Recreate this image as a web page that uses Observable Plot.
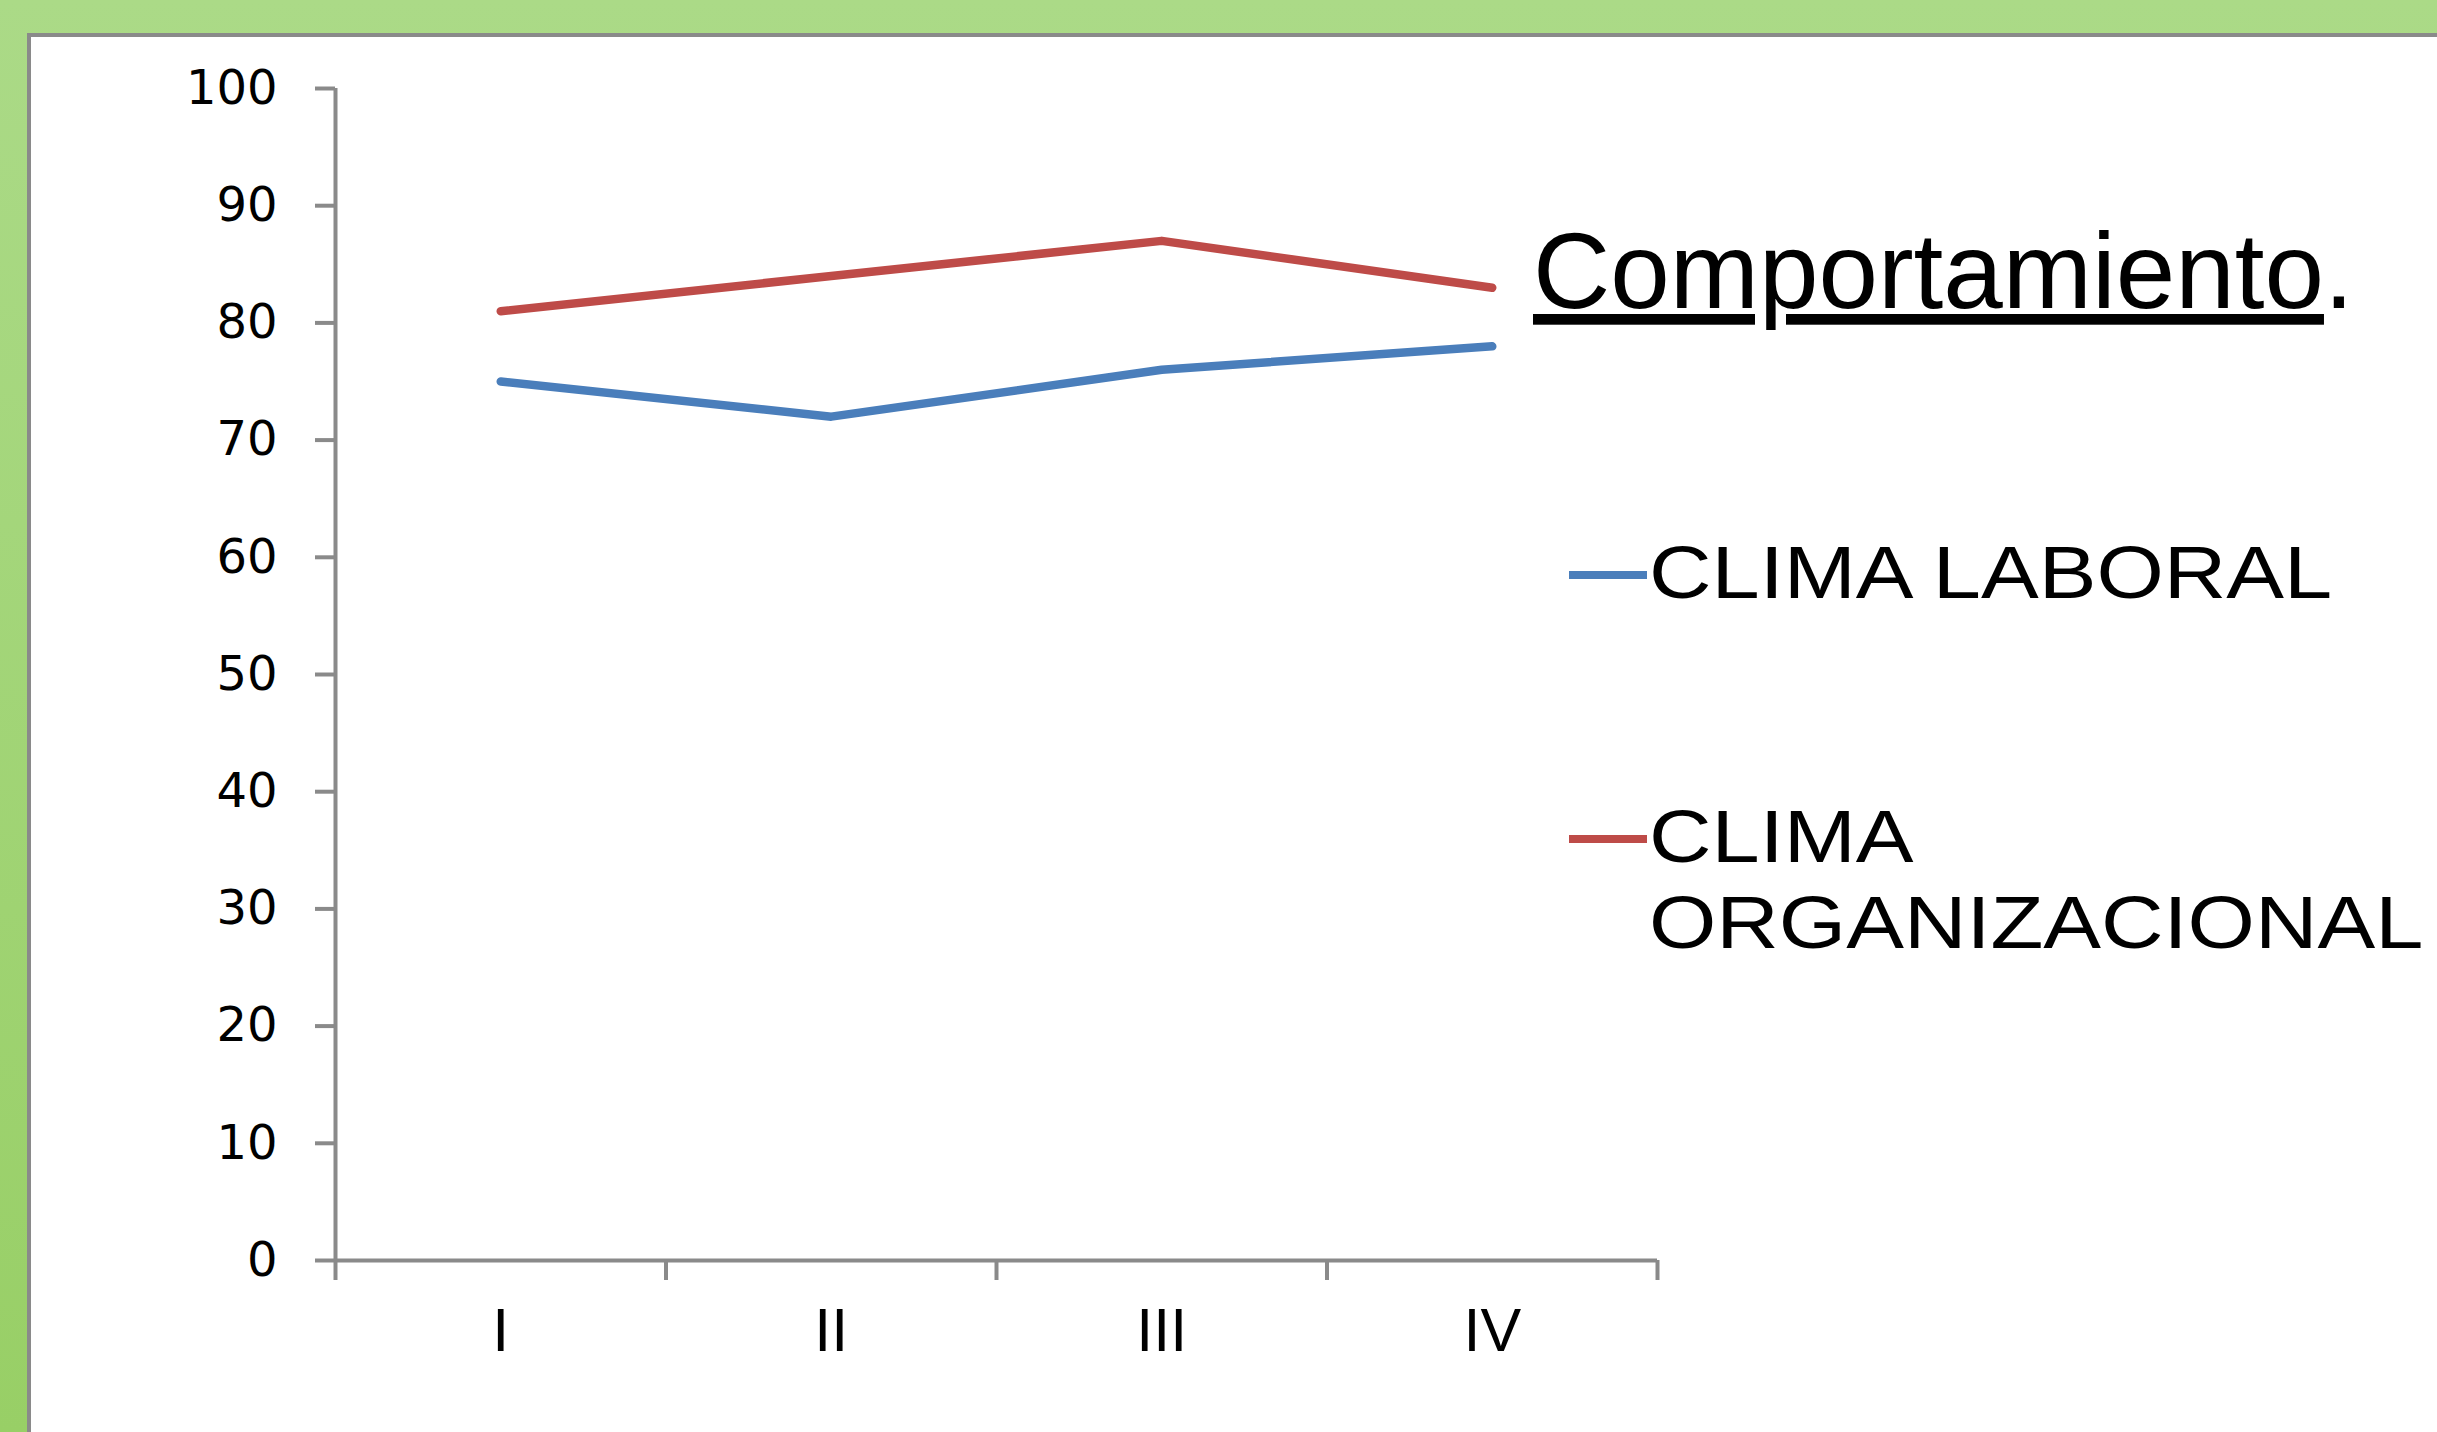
<!DOCTYPE html>
<html><head><meta charset="utf-8">
<script src="https://cdn.jsdelivr.net/npm/d3@7"></script>
<script src="https://cdn.jsdelivr.net/npm/@observablehq/plot@0.6"></script>
<style>
html,body{margin:0;padding:0;}
body{width:2437px;height:1432px;overflow:hidden;position:relative;background:linear-gradient(#abda87,#98cf66);}
#panel{position:absolute;left:27px;top:33px;right:-10px;bottom:-10px;background:#fff;border-left:4px solid #8a8a8a;border-top:4px solid #8a8a8a;}
#chart{position:absolute;left:0;top:0;}
#overlay{position:absolute;left:0;top:0;}
</style></head><body>
<div id="panel"></div>
<div id="chart"></div>
<svg id="overlay" width="2437" height="1432"></svg>
<script>
// ---- data ----
const categories = ["I", "II", "III", "IV"];
const seriesNames = ["CLIMA LABORAL", "CLIMA ORGANIZACIONAL"];
const climaLaboral = [75, 72, 76, 78];
const climaOrganizacional = [81, 84, 87, 83];
const seriesColors = ["#4a7ebb", "#be4b48"];
const yTicks = [0, 10, 20, 30, 40, 50, 60, 70, 80, 90, 100];
const titleText = "Comportamiento";
const legendLabelLines = [["CLIMA LABORAL"], ["CLIMA", "ORGANIZACIONAL"]];

const seriesValues = [climaLaboral, climaOrganizacional];
const rows = [];
seriesNames.forEach((s, si) => {
  categories.forEach((c, ci) => rows.push({series: s, pos: ci + 0.5, value: seriesValues[si][ci]}));
});
const boundaries = d3.range(categories.length + 1);
const centers = categories.map((c, i) => i + 0.5);

const axisGray = "#8a8a8a";
const plot = Plot.plot({
  width: 2437,
  height: 1432,
  marginLeft: 335,
  marginTop: 88,
  marginBottom: 172,
  marginRight: 780,
  style: {background: "transparent", color: "black", overflow: "visible"},
  x: {domain: [0, categories.length]},
  y: {domain: [0, 100]},
  color: {domain: seriesNames, range: seriesColors},
  marks: [
    Plot.axisY({ticks: yTicks, tickSize: 20, tickPadding: 38, stroke: axisGray, strokeWidth: 4,
      fill: "black", fontSize: 48, fontFamily: "'DejaVu Sans', Verdana, sans-serif", label: null}),
    Plot.axisX({ticks: boundaries, tickSize: 20, stroke: axisGray, strokeWidth: 4,
      tickFormat: () => "", label: null}),
    Plot.axisX({ticks: centers, tickSize: 0, tickPadding: 47, fill: "black",
      fontSize: 61, fontFamily: "'Liberation Sans', Arial, sans-serif",
      tickFormat: d => categories[Math.floor(d)], label: null}),
    Plot.ruleX([0], {stroke: axisGray, strokeWidth: 4}),
    Plot.ruleY([0], {stroke: axisGray, strokeWidth: 4}),
    Plot.line(rows, {x: "pos", y: "value", z: "series", stroke: "series", strokeWidth: 8.5,
      strokeLinejoin: "round"})
  ]
});
document.getElementById("chart").appendChild(plot);

// ---- title and legend ----
const ov = d3.select("#overlay");
const title = ov.append("text")
  .attr("x", 1533).attr("y", 308)
  .attr("font-family", "'Liberation Sans', Arial, sans-serif")
  .attr("font-size", 107).attr("fill", "black");
title.append("tspan").attr("text-decoration", "underline").text(titleText);
title.append("tspan").text(".");

const legendLineY = [575, 839];
const legendBaseY = [598, 862];
const lineGap = 86;
seriesNames.forEach((s, i) => {
  ov.append("line")
    .attr("x1", 1569).attr("x2", 1647)
    .attr("y1", legendLineY[i]).attr("y2", legendLineY[i])
    .attr("stroke", seriesColors[i]).attr("stroke-width", 8);
  legendLabelLines[i].forEach((t, k) => {
    ov.append("text")
      .attr("transform", `translate(1649,${legendBaseY[i] + k * lineGap}) scale(1.17,1)`)
      .attr("font-family", "'Liberation Sans', Arial, sans-serif")
      .attr("font-size", 74).attr("fill", "black")
      .text(t);
  });
});
</script>
</body></html>
